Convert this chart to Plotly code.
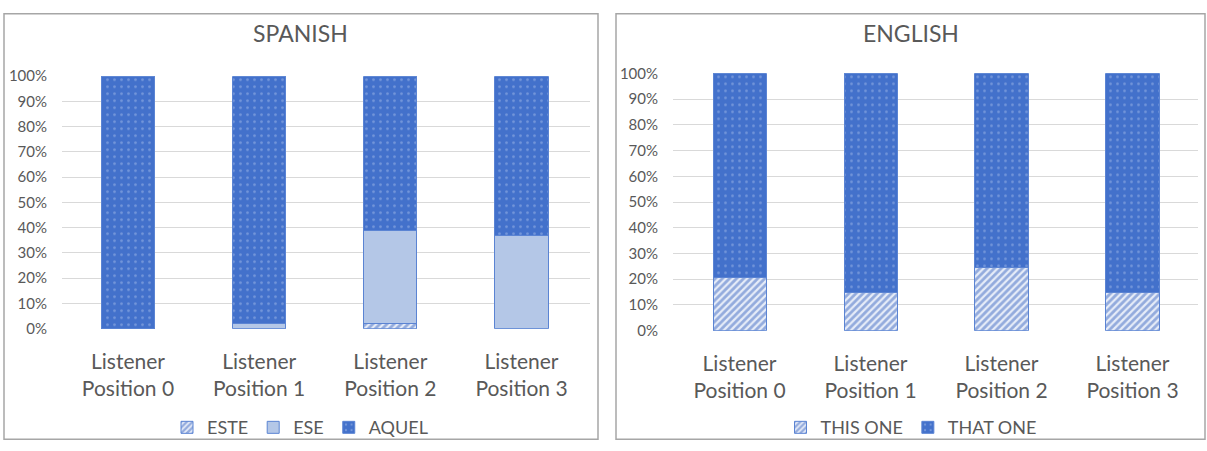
import plotly.graph_objects as go
from plotly.subplots import make_subplots

# Categories and shares (percent of responses)
positions = [0, 1, 2, 3]
position_labels = ["Listener<br>Position 0", "Listener<br>Position 1",
                   "Listener<br>Position 2", "Listener<br>Position 3"]

spanish_este = [0, 0, 2, 0]
spanish_ese = [0, 2, 37, 37]
spanish_aquel = [100, 98, 61, 63]

english_this_one = [20.5, 15, 24.5, 15]
english_that_one = [79.5, 85, 75.5, 85]

y_ticks = [0, 10, 20, 30, 40, 50, 60, 70, 80, 90, 100]
y_tick_labels = [f"{v}%" for v in y_ticks]

FONT = "Lato"
TEXT = "#595959"
BLUE = "#4371CB"
LIGHT = "#B4C7E7"
EDGE = "#5B84D3"

W, H = 1207, 451

def px_x(v):
    return v / W

def px_y(v):
    return 1 - v / H

dots = dict(shape=".", bgcolor=BLUE, fgcolor="#A8BDEA", size=7, solidity=0.12)
hatch = dict(shape="/", bgcolor="#E6ECF8", fgcolor="#4069C2", size=5, solidity=0.55)

fig = make_subplots(rows=1, cols=2)

bar_w = 0.405

# SPANISH panel
fig.add_trace(go.Bar(x=positions, y=spanish_este, name="ESTE", width=bar_w,
                     marker=dict(color="#E6ECF8", pattern=hatch, line=dict(color=EDGE, width=1)),
                     legend="legend"), row=1, col=1)
fig.add_trace(go.Bar(x=positions, y=spanish_ese, name="ESE", width=bar_w,
                     marker=dict(color=LIGHT, line=dict(color=EDGE, width=1)),
                     legend="legend"), row=1, col=1)
fig.add_trace(go.Bar(x=positions, y=spanish_aquel, name="AQUEL", width=bar_w,
                     marker=dict(color=BLUE, pattern=dots, line=dict(color=EDGE, width=1)),
                     legend="legend"), row=1, col=1)

# ENGLISH panel
fig.add_trace(go.Bar(x=positions, y=english_this_one, name="THIS ONE", width=bar_w,
                     marker=dict(color="#E6ECF8", pattern=hatch, line=dict(color=EDGE, width=1)),
                     legend="legend2"), row=1, col=2)
fig.add_trace(go.Bar(x=positions, y=english_that_one, name="THAT ONE", width=bar_w,
                     marker=dict(color=BLUE, pattern=dots, line=dict(color=EDGE, width=1)),
                     legend="legend2"), row=1, col=2)

xaxis_common = dict(tickvals=positions, ticktext=position_labels, showgrid=False,
                    zeroline=False, showline=False, ticks="",
                    tickfont=dict(family=FONT, size=21, color=TEXT), ticklabelstandoff=18)
yaxis_common = dict(range=[0, 100], tickvals=y_ticks, ticktext=y_tick_labels, showgrid=True,
                    gridcolor="#D9D9D9", gridwidth=1, zeroline=False, showline=False,
                    ticks="", tickfont=dict(family=FONT, size=15, color=TEXT),
                    ticklabelstandoff=14)

fig.update_layout(
    barmode="stack",
    width=W, height=H,
    margin=dict(l=0, r=0, t=0, b=0),
    paper_bgcolor="white", plot_bgcolor="white",
    font=dict(family=FONT, color=TEXT),
    xaxis=dict(domain=[px_x(62), px_x(590)], range=[-0.503, 3.522], **xaxis_common),
    xaxis2=dict(domain=[px_x(673), px_x(1198)], range=[-0.508, 3.5], **xaxis_common),
    yaxis=dict(domain=[px_y(332), px_y(69)], **yaxis_common),
    yaxis2=dict(domain=[px_y(334), px_y(66)], **yaxis_common),
    legend=dict(orientation="h", x=px_x(300), xanchor="center", y=px_y(435), yanchor="middle",
                traceorder="normal", font=dict(family=FONT, size=18, color=TEXT),
                itemwidth=30, bgcolor="rgba(0,0,0,0)"),
    legend2=dict(orientation="h", x=px_x(911), xanchor="center", y=px_y(435), yanchor="middle",
                 traceorder="normal", font=dict(family=FONT, size=18, color=TEXT),
                 itemwidth=30, bgcolor="rgba(0,0,0,0)"),
    showlegend=True,
)

# Panel titles
for text, cx in [("SPANISH", 300), ("ENGLISH", 911)]:
    fig.add_annotation(text=text, x=px_x(cx), y=px_y(24), xref="paper", yref="paper",
                       xanchor="center", yanchor="middle", showarrow=False,
                       font=dict(family=FONT, size=23, color=TEXT))

# Panel frames
for x0, x1 in [(4, 598), (616, 1205)]:
    fig.add_shape(type="rect", xref="paper", yref="paper",
                  x0=px_x(x0), x1=px_x(x1), y0=px_y(447), y1=px_y(4),
                  line=dict(color="#A6A6A6", width=1.5), fillcolor="rgba(0,0,0,0)")

fig.write_html("out.html")
